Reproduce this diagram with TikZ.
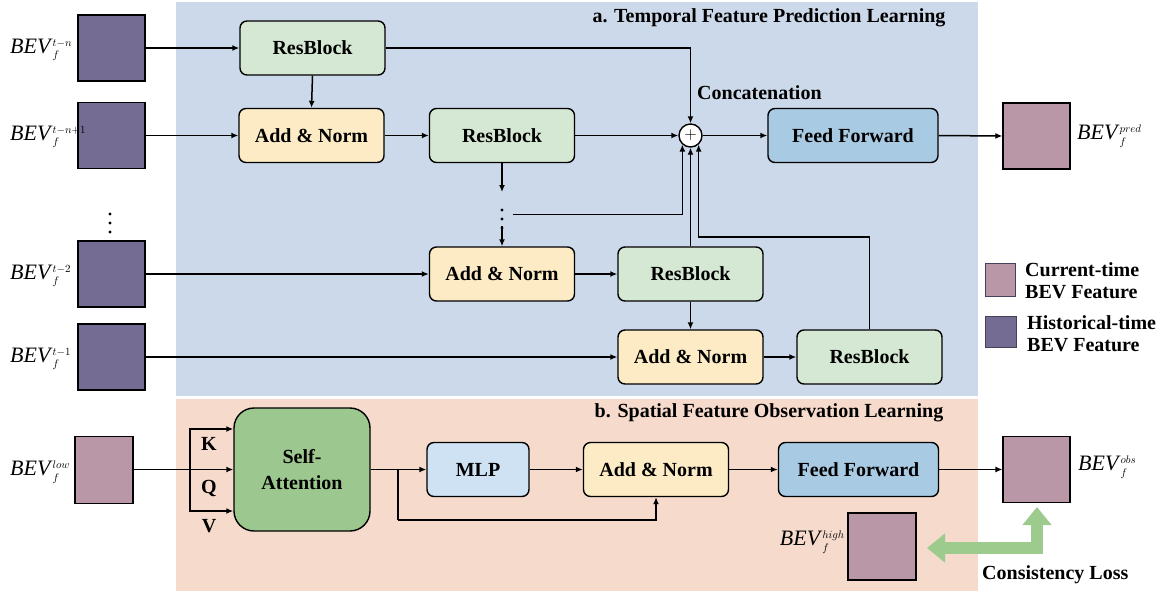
\documentclass[tikz,border=0pt]{standalone}
\usepackage{fontspec}
\setmainfont{Liberation Serif}
\usetikzlibrary{arrows.meta,calc}
\definecolor{bluebg}{HTML}{CCD9EA}
\definecolor{pinkbg}{HTML}{F6DACC}
\definecolor{cpur}{HTML}{756C94}
\definecolor{cpink}{HTML}{BA97A6}
\definecolor{cres}{HTML}{D5E8D4}
\definecolor{cadd}{HTML}{FCEBC4}
\definecolor{cff}{HTML}{A9CAE3}
\definecolor{cmlp}{HTML}{CFE2F3}
\definecolor{csa}{HTML}{9CC78E}
\definecolor{cgarr}{HTML}{9DCB8E}
\newcommand{\bevlab}[1]{{\fontsize{22}{22}\selectfont\textit{BEV}$_{\scriptscriptstyle f}^{\scriptscriptstyle #1}$}}
\begin{document}
\begin{tikzpicture}[x=1pt,y=-1pt,
  arr/.style={line width=1.5pt,-{Latex[length=7pt,width=6pt]}},
  ln/.style={line width=1.5pt},
  blk/.style={draw,line width=1.4pt,rounded corners=7pt,minimum height=54pt,inner sep=0pt,
    font=\fontsize{20}{24}\selectfont\bfseries},
  rbk/.style={blk,fill=cres,minimum width=145pt},
  anb/.style={blk,fill=cadd,minimum width=145pt},
  ffb/.style={blk,fill=cff},
  sqp/.style={draw,line width=1.2pt,fill=cpur,minimum width=67pt,minimum height=66pt,inner sep=0pt},
  sqk/.style={draw,line width=1.2pt,fill=cpink,minimum width=67pt,minimum height=66pt,inner sep=0pt},
  lab/.style={inner sep=0pt},
  ttl/.style={font=\fontsize{20}{24}\selectfont\bfseries,inner sep=0pt},
  dot/.style={circle,fill=black,inner sep=0pt,minimum size=3.2pt}
]
\useasboundingbox (0,0) rectangle (1163,595);
% panels
\fill[bluebg] (176,2) rectangle (978,396);
\fill[pinkbg] (176,399) rectangle (978,591);
\node[ttl] (ta) at (769,18) {a. Temporal Feature Prediction Learning};
\node[ttl] (tb) at (769,413) {b. Spatial Feature Observation Learning};

% left inputs
\node[sqp] (s1) at (111.5,48) {};
\node[sqp] (s2) at (111.5,135.5) {};
\node[sqp] (s3) at (111.5,274) {};
\node[sqp] (s4) at (111.5,357) {};
\node[lab,anchor=west] (l1) at (10,50) {\bevlab{t-n}};
\node[lab,anchor=west] (l2) at (10,137) {\bevlab{t-n+1}};
\node[lab,anchor=west] (l3) at (10,276) {\bevlab{t-2}};
\node[lab,anchor=west] (l4) at (10,359) {\bevlab{t-1}};
\node[dot] (ld1) at (110,214) {};
\node[dot] (ld2) at (110,223) {};
\node[dot] (ld3) at (110,232) {};

% temporal blocks
\node[rbk] (rb1) at (312.5,48) {ResBlock};
\node[anb] (an1) at (311.5,135.5) {Add \& Norm};
\node[rbk] (rb2) at (502,135.5) {ResBlock};
\node[circle,draw,fill=white,line width=1.4pt,minimum size=23pt,inner sep=0pt,font=\fontsize{16}{16}\selectfont] (plus) at (690.5,135.5) {$+$};
\node[lab,anchor=west,font=\fontsize{20}{24}\selectfont\bfseries] (cc) at (697,93) {Concatenation};
\node[ffb,minimum width=170pt] (ff1) at (853,135.5) {Feed Forward};
\node[sqk] (o1) at (1036.5,136) {};
\node[lab,anchor=west] (ol1) at (1077,136) {\bevlab{pred}};

\node[anb] (an2) at (502,274) {Add \& Norm};
\node[rbk] (rb3) at (690.5,274) {ResBlock};
\node[anb] (an3) at (690.5,357) {Add \& Norm};
\node[rbk] (rb4) at (869.5,357) {ResBlock};

\node[dot] (md1) at (502,210) {};
\node[dot] (md2) at (502,219) {};
\node[dot] (md3) at (502,228) {};
\coordinate (mA) at (502,192);
\coordinate (mB) at (502,226);
\coordinate (mL) at (513,214.5);
\coordinate (c4) at (869.5,237);

\draw[arr] (s1.east) -- (rb1.west);
\draw[arr] (s2.east) -- (an1.west);
\draw[arr] (s3.east) -- (an2.west);
\draw[arr] (s4.east) -- (an3.west);
\draw[arr] (rb1.south) -- (an1.north);
\draw[arr] (rb1.east) -| (plus.north);
\draw[arr] (an1.east) -- (rb2.west);
\draw[arr] (rb2.east) -- (plus.west);
\draw[arr] (plus.east) -- (ff1.west);
\draw[arr] (ff1.east) -- (o1.west);
\draw[arr] (rb2.south) -- (mA);
\draw[arr] (mB) -- (an2.north);
\draw[arr] (mL) -| (plus.228);
\draw[arr] (rb3.north) -- (plus.south);
\draw[arr] (rb4.north) -- (c4) -| (plus.312);
\draw[arr] (an2.east) -- (rb3.west);
\draw[arr] (rb3.south) -- (an3.north);
\draw[arr] (an3.east) -- (rb4.west);

% legend
\node[draw=cpur!60!black,line width=0.8pt,fill=cpink,minimum width=30pt,minimum height=33pt,inner sep=0pt] (lg1) at (1000,279.5) {};
\node[draw=cpur!60!black,line width=0.8pt,fill=cpur,minimum width=31pt,minimum height=31pt,inner sep=0pt] (lg2) at (1000.5,331.5) {};
\node[lab,anchor=west,align=left,font=\fontsize{20}{22}\selectfont\bfseries] (lt1) at (1025,281) {Current-time\\BEV Feature};
\node[lab,anchor=west,align=left,font=\fontsize{20}{22}\selectfont\bfseries] (lt2) at (1027,334) {Historical-time\\BEV Feature};

% spatial branch
\node[sqk,minimum width=58pt,minimum height=67pt] (lo) at (104,470) {};
\node[lab,anchor=west] (lol) at (10,472) {\bevlab{low}};
\node[blk,fill=csa,rounded corners=20pt,minimum width=136pt,minimum height=123pt,align=center,
  font=\fontsize{20}{26}\selectfont\bfseries] (sa) at (302,469.5) {Self-\\Attention};
\coordinate (br) at (190,469.5);
\coordinate (kk) at (190,429);
\coordinate (vv) at (190,511);
\draw[arr] (lo.east |- sa.west) -- (sa.west);
\draw[arr] (br) -- (kk) -- (kk -| sa.west);
\draw[arr] (br) -- (vv) -- (vv -| sa.west);
\node[ttl] (kl) at (209,444) {K};
\node[ttl] (ql) at (209,488) {Q};
\node[ttl] (vl) at (209,526) {V};

\node[blk,fill=cmlp,minimum width=102pt] (mlp) at (478,469.5) {MLP};
\node[anb] (an4) at (656,469.5) {Add \& Norm};
\node[ffb,minimum width=160pt] (ff2) at (858.5,469.5) {Feed Forward};
\node[sqk] (ob) at (1036.5,469.5) {};
\node[lab,anchor=west] (obl) at (1078,467) {\bevlab{obs}};
\node[sqk,minimum width=68pt,minimum height=67pt] (hi) at (882,546.5) {};
\node[lab,anchor=east] (hil) at (845,542) {\bevlab{high}};

\coordinate (s2a) at (398,469.5);
\coordinate (s2b) at (398,520);
\draw[arr] (sa.east) -- (mlp.west);
\draw[ln] (s2a) -- (s2b);
\draw[arr] (s2b) -| (an4.south);
\draw[arr] (mlp.east) -- (an4.west);
\draw[arr] (an4.east) -- (ff2.west);
\draw[arr] (ff2.east) -- (ob.west);

% consistency arrow
\coordinate (gc) at (1037,548);
\coordinate (gl) at (927,548);
\coordinate (gt) at (1037,507);
\draw[cgarr,line width=12pt,line join=miter,
  {Triangle[length=18pt,width=28pt]}-{Triangle[length=18pt,width=28pt]}] (gl) -- (gc) -- (gt);
\node[ttl,anchor=west] (cl) at (982,575) {Consistency Loss};
\end{tikzpicture}
\end{document}
